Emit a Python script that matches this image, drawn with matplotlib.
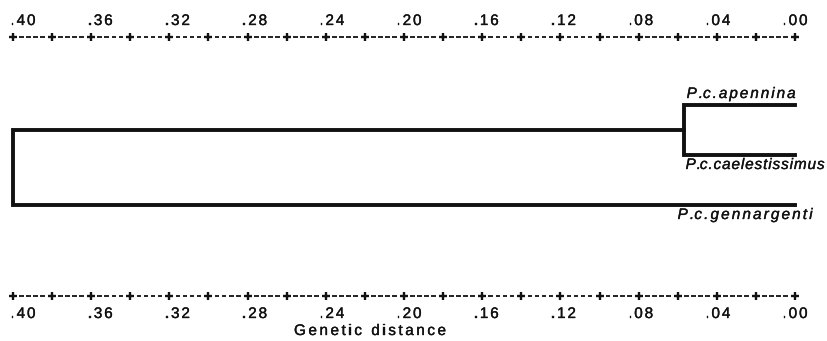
import matplotlib
matplotlib.use("Agg")
import matplotlib.pyplot as plt
import matplotlib.patheffects as pe
from matplotlib.font_manager import FontProperties
from matplotlib.textpath import TextToPath
import numpy as np

# ---- data ----
leaves = ["P.c.apennina", "P.c.caelestissimus", "P.c.gennargenti"]
node_inner = 0.057          # apennina + caelestissimus join
node_root = 0.40            # root join with gennargenti
tick_values = [0.40, 0.36, 0.32, 0.28, 0.24, 0.20, 0.16, 0.12, 0.08, 0.04, 0.00]
tick_labels = [".40", ".36", ".32", ".28", ".24", ".20", ".16", ".12", ".08", ".04", ".00"]
minor_step = 0.02
xlabel = "Genetic distance"

# ---- layout ----
W, H, DPI = 8.28, 3.41, 100
fig = plt.figure(figsize=(W, H), dpi=DPI)
ax = fig.add_axes([0, 0, 1, 1])
ax.set_axis_off()
px_per_unit = 783 / 0.40
ax.set_xlim(0.40 + 13 / px_per_unit, 0.0 - 33 / px_per_unit)
ax.set_ylim(341, 0)

FONT = "Liberation Sans"
FS = 11
COL = "#111111"
EFF = [pe.withStroke(linewidth=0.25, foreground=COL)]
t2p = TextToPath()

def adv(s, fp):
    w, h, d = t2p.get_text_width_height_descent(s, fp, ismath=False)
    return w * DPI / 72.0  # pixels

def spaced_text(x, y, s, width=None, spacing=2.5, fs=FS, style="normal", ha="left", dx=0.0):
    fp = FontProperties(family=FONT, size=fs, style=style)
    nat = adv(s, fp)
    if width is not None:
        spacing = (width - nat) / (len(s) - 1)
    total = nat + spacing * (len(s) - 1)
    if ha == "center":
        start = -total / 2
    elif ha == "right":
        start = -total
    else:
        start = 0
    start += dx
    for i, ch in enumerate(s):
        if ch == " ":
            continue
        off = start + (adv(s[:i], fp) if i > 0 else 0) + spacing * i
        ax.annotate(ch, (x, y), xytext=(off * 72 / DPI, 0), textcoords="offset points",
                    fontproperties=fp, ha="left", va="baseline", color=COL,
                    path_effects=EFF)

def draw_axis(y_line, y_lab):
    ticks = np.round(np.arange(0.0, 0.40 + 1e-9, minor_step), 3)
    ax.plot(ticks, [y_line] * len(ticks), ls="none", marker="+", ms=5.5, mew=1.7,
            color=COL)
    for a, b in zip(ticks[:-1], ticks[1:]):
        seg = (b - a)
        for k in range(4):
            x0 = a + seg * (0.18 + k * 0.18)
            x1 = x0 + seg * 0.12
            ax.plot([x0, x1], [y_line, y_line], color=COL, lw=1.3,
                    solid_capstyle="butt")
    for v, lab in zip(tick_values, tick_labels):
        spaced_text(v, y_lab, lab, width=25, ha="center", dx=10 * v / 0.40)

draw_axis(37, 25)
draw_axis(296, 318)
spaced_text(0.20, 335, xlabel, width=152, ha="center", dx=-34)

# ---- tree ----
y_leaf = [105, 155, 205]
lw = 2.8
y_inner = (y_leaf[0] + y_leaf[1]) / 2
ax.plot([0.0, node_inner, node_inner, 0.0], [y_leaf[0], y_leaf[0], y_leaf[1], y_leaf[1]],
        color=COL, lw=lw, solid_joinstyle="miter", solid_capstyle="projecting")
ax.plot([node_inner, node_root, node_root, 0.0], [y_inner, y_inner, y_leaf[2], y_leaf[2]],
        color=COL, lw=lw, solid_joinstyle="miter", solid_capstyle="projecting")

spaced_text(node_inner, 98, leaves[0], width=109, style="italic", dx=3)
spaced_text(node_inner, 169, leaves[1], width=139, style="italic", dx=2)
spaced_text(node_inner, 219, leaves[2], width=135, style="italic", dx=-6)

fig.savefig("out.png", dpi=DPI)
